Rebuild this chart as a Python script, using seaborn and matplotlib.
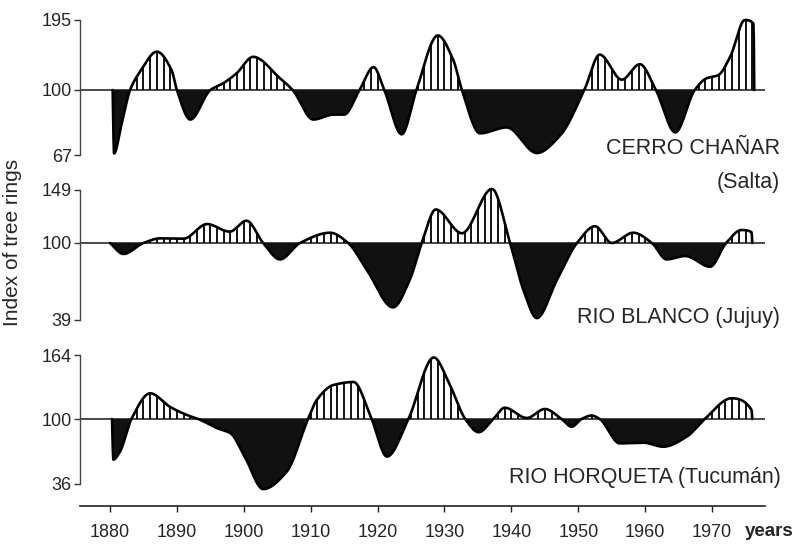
import numpy as np
import pandas as pd
import matplotlib
matplotlib.use("Agg")
import matplotlib.pyplot as plt
import seaborn as sns

# ---------------- data ----------------
decades = [1880, 1890, 1900, 1910, 1920, 1930, 1940, 1950, 1960, 1970]

cerro_years = [1880.4, 1880.6, 1881.75, 1883.0, 1884.5, 1887.0, 1889.2, 1890.0, 1892.0, 1895.0,
               1896.9, 1898.9, 1901.4, 1905.4, 1907.3, 1910.4, 1913.4, 1915.0, 1917.3, 1919.4,
               1921.0, 1923.6, 1925.8, 1929.0, 1931.3, 1932.6, 1935.3, 1939.3, 1943.8, 1947.3,
               1950.9, 1953.2, 1956.5, 1959.2, 1961.6, 1964.5, 1967.4, 1969.2, 1970.9, 1972.7,
               1974.9, 1976.2, 1976.3]
cerro_vals = [100, 67.8, 83, 100, 125, 152, 127, 100, 85, 100,
              109, 122.5, 145, 116, 100, 85, 87.5, 87.5, 100, 131,
              100, 77.5, 100, 174, 141, 100, 78, 81, 68, 77,
              100, 148, 114, 135, 100, 78.5, 100, 116, 120, 145,
              195, 190, 100]

blanco_years = [1880.0, 1882.0, 1885.0, 1887.5, 1891.0, 1894.5, 1897.9, 1900.4, 1902.9, 1905.4,
                1908.4, 1912.9, 1915.6, 1918.4, 1922.3, 1924.8, 1926.6, 1928.7, 1932.6, 1937.1,
                1939.8, 1941.8, 1943.8, 1946.8, 1949.8, 1952.5, 1955.0, 1958.2, 1961.0, 1963.2,
                1966.0, 1969.7, 1972.1, 1974.4, 1975.9, 1976.0]
blanco_vals = [100, 91.3, 100, 104.3, 104, 117.5, 110.5, 120.6, 100, 87,
               100, 109.5, 100, 78.6, 49, 70.7, 100, 131, 109, 150,
               100, 62.8, 40.5, 70.7, 100, 115.5, 100, 109.5, 100, 87,
               89.7, 81.2, 100, 112, 110, 100]

horq_years = [1880.3, 1880.5, 1881.5, 1883.2, 1886.0, 1889.0, 1891.5, 1893.2, 1896.0, 1898.0,
              1900.2, 1902.9, 1906.4, 1909.6, 1910.9, 1913.4, 1916.4, 1919.1, 1921.4, 1924.6,
              1928.4, 1930.8, 1933.1, 1935.1, 1937.3, 1939.0, 1942.3, 1945.0, 1947.5, 1949.0,
              1950.5, 1952.0, 1953.2, 1956.2, 1959.7, 1962.7, 1966.2, 1968.9, 1972.9, 1975.9,
              1976.0]
horq_vals = [100, 60, 68, 100, 125.7, 112, 104, 100, 91, 86,
             62, 31, 48, 100, 119, 134, 137, 100, 63, 100,
             161.5, 134, 100, 87, 100, 111.3, 101, 110, 100, 92.4,
             100, 103.5, 100, 76, 76.7, 72.7, 82.6, 100, 120.7, 109,
             100]

site_names = ["CERRO CHAÑAR", "RIO BLANCO (Jujuy)", "RIO HORQUETA (Tucumán)"]
y_ticks = [[67, 100, 195], [39, 100, 149], [36, 100, 164]]

# ---------------- helpers ----------------
def pchip(x, y, xn):
    x = np.asarray(x, float); y = np.asarray(y, float)
    h = np.diff(x); d = np.diff(y) / h
    n = len(x); m = np.zeros(n)
    m[0], m[-1] = d[0], d[-1]
    for k in range(1, n - 1):
        if d[k - 1] * d[k] <= 0:
            m[k] = 0.0
        else:
            w1 = 2 * h[k] + h[k - 1]; w2 = h[k] + 2 * h[k - 1]
            m[k] = (w1 + w2) / (w1 / d[k - 1] + w2 / d[k])
    idx = np.clip(np.searchsorted(x, xn) - 1, 0, n - 2)
    hh = h[idx]; s = (xn - x[idx]) / hh
    h00 = 2 * s**3 - 3 * s**2 + 1; h10 = s**3 - 2 * s**2 + s
    h01 = -2 * s**3 + 3 * s**2; h11 = s**3 - s**2
    return h00 * y[idx] + h10 * hh * m[idx] + h01 * y[idx + 1] + h11 * hh * m[idx + 1]

def make_scale(au, ad):
    def fwd(v):
        v = np.asarray(v, float)
        return np.where(v >= 100, (v - 100) * au, (v - 100) * ad)
    def inv(t):
        t = np.asarray(t, float)
        return np.where(t >= 0, 100 + t / au, 100 + t / ad)
    return fwd, inv

# ---------------- figure ----------------
sns.set_theme(style="white")
plt.rcParams["font.family"] = ["Liberation Sans", "DejaVu Sans"]

W, H = 797, 546
fig = plt.figure(figsize=(W / 100, H / 100), dpi=100)

x_left_px, x_right_px = 80, 765
xlim = (1880 + (x_left_px - 110) / 6.69, 1880 + (x_right_px - 110) / 6.69)

# panel layout: (top px, bottom px, baseline px, top-tick px, bottom-tick px)
layout = [(12, 162, 90, 20, 155), (180, 330, 243, 190, 320), (345, 506, 419, 355, 484)]
series = [(cerro_years, cerro_vals), (blanco_years, blanco_vals), (horq_years, horq_vals)]

axes = []
for i, ((ytop, ybot, base, ttop, tbot), (yrs, vals), ticks) in enumerate(zip(layout, series, y_ticks)):
    ax = fig.add_axes([x_left_px / W, 1 - ybot / H, (x_right_px - x_left_px) / W, (ybot - ytop) / H])
    au = (base - ttop) / (ticks[2] - 100)
    ad = (tbot - base) / (100 - ticks[0])
    fwd, inv = make_scale(au, ad)
    ax.set_yscale("function", functions=(fwd, inv))
    ax.set_ylim(float(inv(-(ybot - base))), float(inv(base - ytop)))
    ax.set_xlim(*xlim)
    ax.patch.set_alpha(0)

    t = fwd(np.array(vals))
    xd = np.linspace(yrs[0], yrs[-1], 1500)
    vd = inv(pchip(yrs, t, xd))

    ax.axhline(100, color="#3a3a3a", lw=1.3, zorder=1)
    ax.fill_between(xd, vd, 100, where=vd < 100, color="#111111", interpolate=True, lw=0, zorder=2)
    iy = np.arange(np.ceil(yrs[0]), np.floor(yrs[-1]) + 1)
    iv = inv(pchip(yrs, t, iy))
    m = iv > 101
    ax.vlines(iy[m], 100, iv[m], color="black", lw=1.3, zorder=2)
    df = pd.DataFrame({"year": xd, "index": vd})
    sns.lineplot(data=df, x="year", y="index", ax=ax, color="black", lw=1.9,
                 sort=False, estimator=None, zorder=3)
    ax.set_xlabel(""); ax.set_ylabel("")

    ax.set_yticks(ticks)
    ax.set_yticklabels([str(v) for v in ticks])
    ax.minorticks_off()
    ax.tick_params(axis="y", which="major", direction="out", length=4, width=1,
                   pad=2, labelsize=13, left=True, color="#333")
    for s in ["top", "right"]:
        ax.spines[s].set_visible(False)
    ax.spines["left"].set_color("#444")
    ax.spines["left"].set_linewidth(1.0)
    ax.spines["left"].set_bounds(ticks[0], ticks[2])
    if i < 2:
        ax.spines["bottom"].set_visible(False)
        ax.set_xticks([])
    else:
        ax.spines["bottom"].set_color("#222")
        ax.spines["bottom"].set_linewidth(1.2)
        ax.set_xticks(decades)
        ax.set_xticklabels([str(d) for d in decades])
        ax.tick_params(axis="x", direction="out", length=4, width=1, pad=9,
                       labelsize=13, bottom=True, color="#222")
    axes.append(ax)

def ftext(x, y, s, **kw):
    fig.text(x / W, 1 - y / H, s, **kw)

ftext(780, 149, site_names[0], ha="right", va="center", fontsize=15.5)
ftext(780, 183, "(Salta)", ha="right", va="center", fontsize=15.5)
ftext(780, 317, site_names[1], ha="right", va="center", fontsize=15.5)
ftext(781, 477, site_names[2], ha="right", va="center", fontsize=15.5)
ftext(745, 532, "years", ha="left", va="center", fontsize=13.5, fontweight="bold")
ftext(13, 242, "Index of tree rings", ha="center", va="center", rotation=90, fontsize=15)

fig.savefig("out.png", dpi=100)
